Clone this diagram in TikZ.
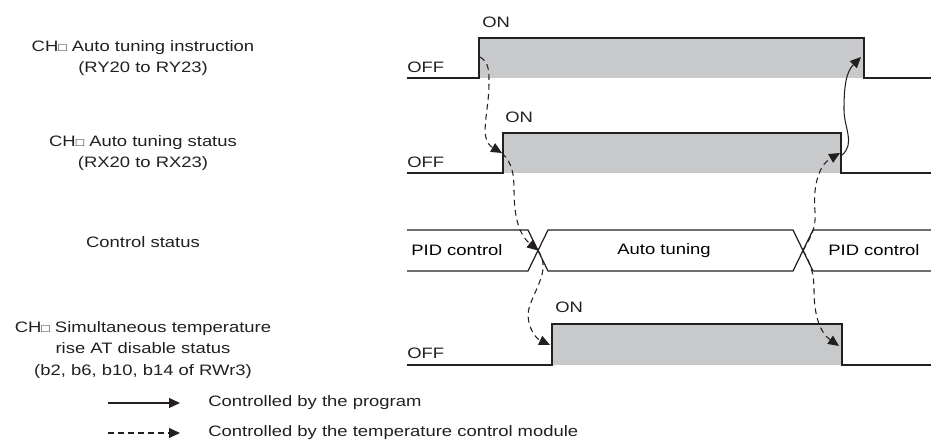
\documentclass[tikz,border=0pt]{standalone}
\usepackage{fontspec}
\setmainfont{Liberation Sans}[FakeStretch=1.22]
\usetikzlibrary{arrows.meta}
\definecolor{tcgray}{RGB}{200, 201, 203}
\definecolor{tcline}{RGB}{35, 31, 32}
\newcommand{\chbox}{{\fontsize{6.5}{6.5}\selectfont □}}

\begin{document}
\begin{tikzpicture}[
  x=0.02cm, y=-0.02cm,
  font=\fontsize{8.6}{12.4}\selectfont,
  sig/.style={draw=tcline, line width=0.7pt},
  hi/.style={fill=tcgray, draw=none},
  lvl/.style={anchor=west, inner sep=0pt, text=tcline},
  signame/.style={align=center, inner sep=0pt, text=tcline},
  prog/.style={-{Triangle[length=6.2pt, width=5.6pt]}, line width=0.6pt, color=tcline},
  mod/.style={prog, dash pattern=on 3.3pt off 2.4pt}
]
  \useasboundingbox (0,0) rectangle (931,448);

  % Signal names (left column)
  \node[signame] (nins)  at (143, 58)  {CH\chbox\ Auto tuning instruction\\(RY20 to RY23)};
  \node[signame] (nsts)  at (143, 153) {CH\chbox\ Auto tuning status\\(RX20 to RX23)};
  \node[signame] (nctl)  at (143, 242) {Control status};
  \node[signame] (natd)  at (143, 350) {CH\chbox\ Simultaneous temperature\\rise AT disable status\\(b2, b6, b10, b14 of RWr3)};

  % Row 1 — auto tuning instruction
  \fill[hi] (479, 38) rectangle (864, 78);
  \draw[sig] (407, 78) -- (479, 78) -- (479, 38) -- (864, 38) -- (864, 78) -- (931, 78);
  \node[lvl] (insoff) at (407, 67) {OFF};
  \node[lvl] (inson)  at (482, 22) {ON};
  \coordinate (insrise) at (480, 57);
  \coordinate (insfall) at (861, 57);

  % Row 2 — auto tuning status
  \fill[hi] (503, 133) rectangle (841, 173);
  \draw[sig] (407, 173) -- (503, 173) -- (503, 133) -- (841, 133) -- (841, 173) -- (931, 173);
  \node[lvl] (stsoff) at (407, 162) {OFF};
  \node[lvl] (stson)  at (505, 117) {ON};
  \coordinate (strise) at (502, 153);
  \coordinate (stfall) at (840, 153);
  \coordinate (stsend) at (842, 155);

  % Row 3 — control status (bus)
  \draw[sig] (407, 230) -- (528, 230) -- (548, 271) -- (793, 271) -- (813, 230) -- (931, 230);
  \draw[sig] (407, 271) -- (528, 271) -- (548, 230) -- (793, 230) -- (813, 271) -- (931, 271);
  \node (pidl) at (457, 250.5) {PID control};
  \node (auto) at (664, 250.5) {Auto tuning};
  \node (pidr) at (874, 250.5) {PID control};
  \coordinate (cross1) at (538, 250.5);
  \coordinate (cross2) at (803, 250.5);

  % Row 4 — AT disable status
  \fill[hi] (552, 324) rectangle (842, 365);
  \draw[sig] (407, 365) -- (552, 365) -- (552, 324) -- (842, 324) -- (842, 365) -- (931, 365);
  \node[lvl] (atdoff) at (407, 353) {OFF};
  \node[lvl] (atdon)  at (555, 307) {ON};
  \coordinate (atrise) at (550, 345);
  \coordinate (atfall) at (839, 346);

  % Connectors
  \draw[mod] (insrise) to[out=-30, in=90] (489, 84) to[out=-90, in=150] (strise);
  \draw[mod] (strise) to[out=-45, in=90] (514, 190) to[out=-90, in=140] (cross1);
  \draw[mod] (cross1) to[out=-55, in=70] (530, 305) to[out=-110, in=155] (atrise);
  \draw[mod] (cross2) to[out=60, in=-85] (815, 212) to[out=95, in=-150] (stfall);
  \draw[mod] (cross2) to[out=-60, in=90] (814, 290) to[out=-90, in=145] (atfall);
  \draw[prog] (stsend) to[out=40, in=-90] (844, 110) to[out=90, in=-135] (insfall);

  % Legend
  \coordinate (lg1a) at (108, 403);
  \coordinate (lg1b) at (180, 403);
  \coordinate (lg2a) at (108, 433);
  \coordinate (lg2b) at (180, 433);
  \draw[prog] (lg1a) -- (lg1b);
  \draw[mod]  (lg2a) -- (lg2b);
  \node[lvl] (lgprog) at (208, 403) {Controlled by the program};
  \node[lvl] (lgmod)  at (208, 433) {Controlled by the temperature control module};
\end{tikzpicture}
\end{document}
